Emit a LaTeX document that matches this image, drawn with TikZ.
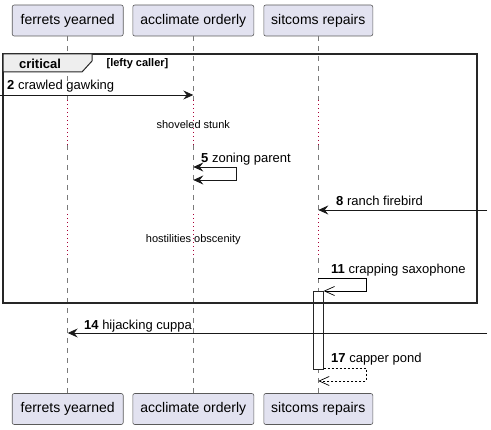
\documentclass[tikz,border=0pt]{standalone}
\usepackage{fontspec}
\setmainfont{Liberation Sans}
\usetikzlibrary{arrows.meta}
\definecolor{partfill}{HTML}{E2E2F0}
\definecolor{partline}{HTML}{5A5A5A}
\definecolor{lifegray}{HTML}{7A7A7A}
\definecolor{delayred}{HTML}{A80036}
\definecolor{tabfill}{HTML}{EEEEEE}
\tikzset{
  part/.style={draw=partline, fill=partfill, line width=0.6pt, rounded corners=2pt,
    minimum height=31pt, inner sep=0pt, font=\fontsize{14}{16}\selectfont},
  lifedash/.style={draw=lifegray, line width=0.6pt, dash pattern=on 5pt off 5pt},
  lifedot/.style={draw=delayred, line width=1pt, dash pattern=on 1pt off 3pt},
  msg/.style={draw=black!90, line width=0.8pt},
  filledtip/.style={-{Stealth[length=10pt,width=9pt,inset=3.5pt]}},
  opentip/.style={-{Straight Barb[length=10pt,width=9pt,line width=0.7pt]}},
  mlabel/.style={anchor=base west, inner sep=0pt, font=\fontsize{13}{15}\selectfont},
  dlabel/.style={inner sep=0pt, font=\fontsize{11}{13}\selectfont},
  frameline/.style={draw=black!85, line width=1.6pt},
}
\begin{document}
\begin{tikzpicture}[x=1pt,y=-1pt]
\useasboundingbox (0,0) rectangle (491,430);
% participants
\node[part, minimum width=111pt] (pa) at (67.7,20.5) {ferrets yearned};
\node[part, minimum width=121pt] (pb) at (193.3,20.5) {acclimate orderly};
\node[part, minimum width=109pt] (pc) at (318.3,20.5) {sitcoms repairs};
\node[part, minimum width=111pt] (qa) at (67.7,409) {ferrets yearned};
\node[part, minimum width=121pt] (qb) at (193.3,409) {acclimate orderly};
\node[part, minimum width=109pt] (qc) at (318.3,409) {sitcoms repairs};
% lifelines
\foreach \p/\q in {pa/qa,pb/qb,pc/qc}{
  \draw[lifedash] (\p.south) -- (\p.south |- 0,100);
  \draw[lifedot] (\p.south |- 0,100) -- (\p.south |- 0,145);
  \draw[lifedash] (\p.south |- 0,145) -- (\p.south |- 0,214);
  \draw[lifedot] (\p.south |- 0,214) -- (\p.south |- 0,258);
  \draw[lifedash] (\p.south |- 0,258) -- (\q.north);
}
% activation bar
\node[draw=black!85, fill=white, line width=0.7pt, minimum width=10pt, minimum height=78pt, inner sep=0pt] (act) at (318.3,330) {};
% critical frame
\draw[frameline] (3,54) rectangle (477,303);
\draw[fill=tabfill, draw=black!85, line width=1pt] (3,54) -- (92,54) -- (92,61) -- (82,72) -- (3,72) -- cycle;
\node[inner sep=0pt, font=\fontsize{13}{15}\selectfont\bfseries] (crit) at (40,64) {critical};
\node[inner sep=0pt, font=\fontsize{11}{13}\selectfont\bfseries] (guard) at (137.5,64) {[lefty caller]};
% message 2
\coordinate (m2s) at (0,95);
\draw[msg, filledtip] (m2s) -- (pb.south |- m2s);
\node[mlabel] (l2) at (7,89.5) {\textbf{2} crawled gawking};
% delay 1
\node[dlabel] (d1) at (193.3,125) {shoveled stunk};
% message 5 (self)
\coordinate (m5a) at (236,167);
\coordinate (m5b) at (236,180);
\draw[msg, filledtip] (m5a) -- (pb.south |- m5a);
\draw[msg, filledtip] (m5a) -- (m5b) -- (pb.south |- m5b);
\node[mlabel] (l5) at (201,162.5) {\textbf{5} zoning parent};
% message 8
\coordinate (m8s) at (487,210);
\draw[msg, filledtip] (m8s) -- (pc.south |- m8s);
\node[mlabel] (l8) at (336,205.5) {\textbf{8} ranch firebird};
% delay 2
\node[dlabel] (d2) at (193.3,240) {hostilities obscenity};
% message 11 (self)
\coordinate (m11a) at (366,278);
\coordinate (m11b) at (366,291);
\draw[line width=0.7pt, opentip] (pc.south |- m11a) -- (m11a) -- (m11b) -- (act.east |- m11b);
\node[mlabel] (l11) at (331,273.5) {\textbf{11} crapping saxophone};
% message 14
\coordinate (m14s) at (487,333);
\draw[msg, filledtip] (m14s) -- (pa.south |- m14s);
\node[mlabel] (l14) at (84,329.5) {\textbf{14} hijacking cuppa};
% message 17
\coordinate (m17a) at (366,368);
\coordinate (m17b) at (366,381);
\draw[line width=0.7pt, dash pattern=on 2pt off 2pt, opentip] (act.east |- m17a) -- (m17a) -- (m17b) -- (pc.south |- m17b);
\node[mlabel] (l17) at (331,363) {\textbf{17} capper pond};
\end{tikzpicture}
\end{document}
